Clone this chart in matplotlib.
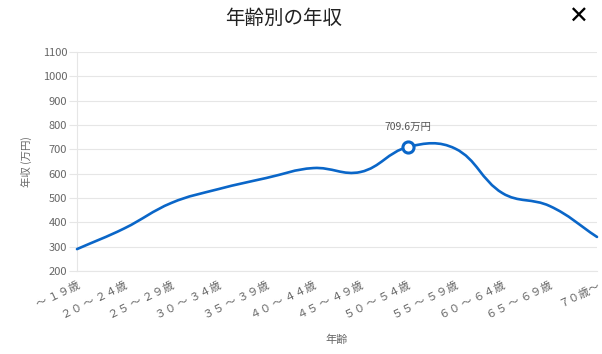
import matplotlib
matplotlib.use("Agg")
import matplotlib.pyplot as plt
import numpy as np
from matplotlib.path import Path
from matplotlib.patches import PathPatch

plt.rcParams["font.family"] = ["Noto Sans CJK JP", "DejaVu Sans"]

AGE_LABELS = [
    "～ １９歳", "２０ ～ ２４歳", "２５ ～ ２９歳", "３０ ～ ３４歳", "３５ ～ ３９歳", "４０ ～ ４４歳",
    "４５ ～ ４９歳", "５０ ～ ５４歳", "５５ ～ ５９歳", "６０ ～ ６４歳", "６５ ～ ６９歳", "７０歳～",
]
INCOME = [290, 375, 480, 537, 582, 623, 607, 709.6, 703, 520, 467, 340]
HIGHLIGHT = 7
Y_TICKS = list(range(200, 1101, 100))

LINE_COLOR = "#0a66c8"
TEXT_COLOR = "#666666"
GRID_COLOR = "#e6e6e6"


def spline_path(ax, xs, ys, tension=0.4):
    # bezier control points like a chart.js line (computed in pixel space)
    pts = ax.transData.transform(np.column_stack([xs, ys]))
    n = len(pts)
    cps = []
    for i in range(n):
        prev = pts[max(i - 1, 0)]
        cur = pts[i]
        nxt = pts[min(i + 1, n - 1)]
        d01 = np.hypot(*(cur - prev))
        d12 = np.hypot(*(nxt - cur))
        tot = d01 + d12
        s01 = d01 / tot if tot else 0.0
        s12 = d12 / tot if tot else 0.0
        cps.append((cur - tension * s01 * (nxt - prev), cur + tension * s12 * (nxt - prev)))
    verts = [pts[0]]
    codes = [Path.MOVETO]
    for i in range(1, n):
        verts += [cps[i - 1][1], cps[i][0], pts[i]]
        codes += [Path.CURVE4] * 3
    verts = ax.transData.inverted().transform(np.array(verts))
    return Path(verts, codes)


fig = plt.figure(figsize=(6.02, 3.54), dpi=100)
ax = fig.add_axes([77 / 602, 83 / 354, 520 / 602, 219 / 354])

x = np.arange(len(AGE_LABELS))
ax.set_xlim(0, len(AGE_LABELS) - 1)
ax.set_ylim(Y_TICKS[0], Y_TICKS[-1])
ax.set_yticks(Y_TICKS)
ax.set_xticks(x)
ax.set_xticklabels(AGE_LABELS, rotation=26, ha="right", rotation_mode="anchor",
                   fontsize=8, color=TEXT_COLOR)
ax.tick_params(axis="y", labelsize=8, labelcolor=TEXT_COLOR, length=6, width=0.8,
               color=GRID_COLOR, pad=1)
ax.tick_params(axis="x", length=0, pad=7)
ax.grid(axis="y", color=GRID_COLOR, lw=0.8)
ax.set_axisbelow(True)
for side in ["top", "right"]:
    ax.spines[side].set_visible(False)
for side in ["left", "bottom"]:
    ax.spines[side].set_color(GRID_COLOR)
    ax.spines[side].set_linewidth(0.8)

ax.add_patch(PathPatch(spline_path(ax, x, INCOME), fill=False, edgecolor=LINE_COLOR,
                       lw=1.9, capstyle="round", joinstyle="round", clip_on=False, zorder=3))
ax.plot(x[HIGHLIGHT], INCOME[HIGHLIGHT], "o", ms=8, mfc="white", mec=LINE_COLOR, mew=2.2,
        zorder=4, clip_on=False)
ax.annotate(f"{INCOME[HIGHLIGHT]:.1f}万円", (x[HIGHLIGHT], INCOME[HIGHLIGHT]),
            xytext=(0, 11), textcoords="offset points", ha="center", va="bottom",
            fontsize=7.5, color="#555555")

ax.set_ylabel("年収 (万円)", fontsize=7.5, color=TEXT_COLOR, labelpad=8)
ax.set_xlabel("年齢", fontsize=8, color=TEXT_COLOR, labelpad=10)

fig.text(284 / 602, 1 - 18.5 / 354, "年齢別の年収", ha="center", va="center", fontsize=14,
         color="#222222")
fig.text(578 / 602, 1 - 17 / 354, "✕", ha="center", va="center", fontsize=17,
         fontweight="bold", color="black", family=["DejaVu Sans"])

fig.savefig("out.png", dpi=100)
